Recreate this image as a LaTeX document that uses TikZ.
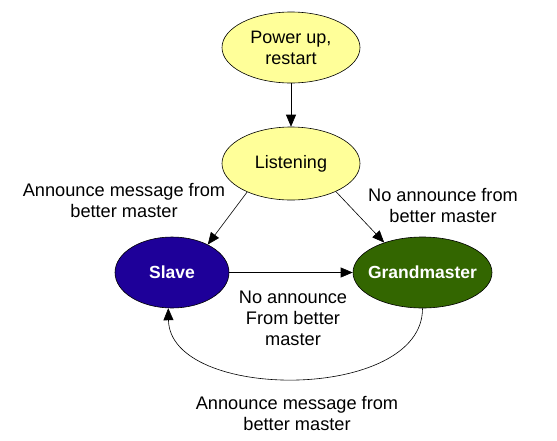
\documentclass[tikz,border=0pt]{standalone}
\usepackage{fontspec}
\setmainfont{Liberation Sans}
\usetikzlibrary{shapes.geometric,arrows.meta}
\definecolor{yel}{HTML}{FFFF99}
\definecolor{slaveblue}{HTML}{1E0099}
\definecolor{gmgreen}{HTML}{336600}
\begin{document}
\begin{tikzpicture}[x=1pt,y=-1pt,
  state/.style={ellipse,draw=black,line width=0.6pt,inner sep=0pt,font=\fontsize{18}{21}\selectfont,align=center},
  lbl/.style={font=\fontsize{18.2}{21}\selectfont,align=center,inner sep=0pt},
  arr/.style={line width=0.6pt,-{Triangle[length=12pt,width=10pt]}}]
\useasboundingbox (0,0) rectangle (557,440);
\node[state,fill=yel,minimum width=138pt,minimum height=71pt] (pw) at (291,47.5) {Power up,\\restart};
\node[state,fill=yel,minimum width=138pt,minimum height=73pt] (ls) at (291,163.5) {Listening};
\node[state,fill=slaveblue,text=white,font=\fontsize{17.5}{21}\selectfont\bfseries,minimum width=114pt,minimum height=71pt] (sl) at (172,272.5) {Slave};
\node[state,fill=gmgreen,text=white,font=\fontsize{17.5}{21}\selectfont\bfseries,minimum width=139pt,minimum height=71pt] (gm) at (422.5,272.5) {\makebox[0pt]{Grandmaster}};
\draw[arr] (pw) -- (ls);
\draw[arr] (ls.-147) -- (sl.38);
\draw[arr] (ls.-32) -- (gm.142);
\draw[arr] (sl) -- (gm);
\draw[arr] (gm.-90) .. controls (423,402) and (170,402) .. (sl.-96);
\node[lbl] (l1) at (124,200) {Announce message from\\better master};
\node[lbl] (l2) at (443,205) {No announce from\\better master};
\node[lbl] (l3) at (293,318) {No announce\\From better\\master};
\node[lbl] (l4) at (297,413) {Announce message from\\better master};
\end{tikzpicture}
\end{document}
